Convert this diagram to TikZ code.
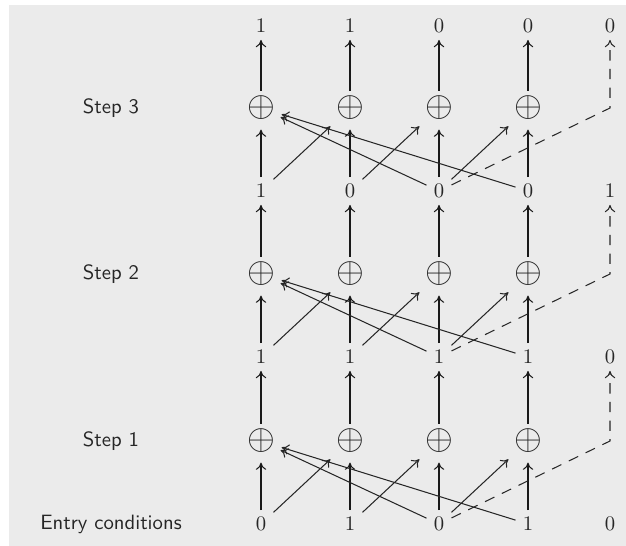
\documentclass[tikz,border=0pt]{standalone}
\usetikzlibrary{arrows.meta}
\definecolor{bggray}{HTML}{EBEBEB}
\tikzset{
	bit/.style={text=black!85},
	xorop/.style={circle, inner sep=1pt, font=\LARGE, text=black!85},
	steplabel/.style={font=\sffamily, text=black!85},
	shiftarrow/.style={line width=1.3pt, draw=black!90, -{To[line width=0.5pt, length=3.5pt, width=5pt]}},
	tap/.style={draw=black!85, line width=0.5pt, -{To[length=3.5pt, width=5pt]}, shorten >=2.5pt},
	feedback/.style={draw=black!85, line width=0.5pt, dash pattern=on 5pt off 4pt, -{To[length=3.5pt, width=5pt]}}
}
\begin{document}
\begin{tikzpicture}[x=0.483pt, y=-0.483pt]
			%\draw[help lines, color=gray!30, dashed] (0,0) grid[step=50] (626,546);
			\useasboundingbox (0,0) rectangle (626,546);
			\fill[bggray] (9,5) rectangle (626,546);
			% register contents, entry row 0 up to row 3
			\foreach \r/\y/\bits in {0/524/{0,1,0,1,0}, 1/357/{1,1,1,1,0}, 2/191/{1,0,0,0,1}, 3/26/{1,1,0,0,0}}
				\foreach \b [count=\c] in \bits
					\node[bit] (d\r-\c) at ({min(172+89*\c,610)},\y) {$\b$};
			% adders
			\foreach \s/\y in {1/441, 2/274, 3/108}
				\foreach \c in {1,...,4}
					\node[xorop] (x\s-\c) at ({172+89*\c},\y) {$\oplus$};
			\node[steplabel] (lbl0) at (111,524) {Entry conditions};
			\node[steplabel] (lbl1) at (111,441) {Step 1};
			\node[steplabel] (lbl2) at (111,274) {Step 2};
			\node[steplabel] (lbl3) at (111,108) {Step 3};
			\foreach \s [evaluate=\s as \p using int(\s-1)] in {1,2,3} {
				\foreach \c in {1,...,4} {
					\draw[shiftarrow] (d\p-\c) -- (x\s-\c);
					\draw[shiftarrow, shorten <=-2pt] (x\s-\c) -- (d\s-\c);
				}
				\foreach \c [evaluate=\c as \n using int(\c+1)] in {1,2,3}
					\draw[tap] (d\p-\c) -- (x\s-\n);
				\draw[tap, shorten >=0pt] (d\p-3) -- (x\s-1);
				\draw[tap, shorten >=0pt] (d\p-4) -- (x\s-1);
				\coordinate (k\s) at (d\s-5 |- x\s-4);
				\draw[feedback] (d\p-3) -- (k\s) -- (d\s-5);
			}
			\end{tikzpicture}
\end{document}
